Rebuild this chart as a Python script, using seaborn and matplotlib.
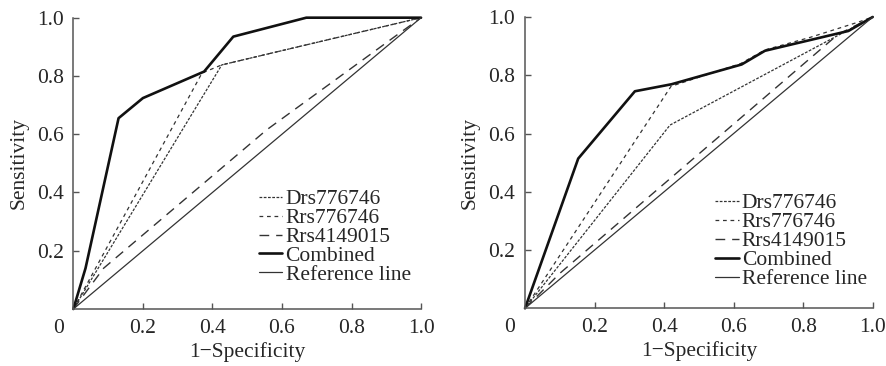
import seaborn as sns
import matplotlib.pyplot as plt

# ROC curve points (1-specificity, sensitivity)
labels = ["Drs776746", "Rrs776746", "Rrs4149015", "Combined", "Reference line"]

left_drs_x = [0, 0.427, 1.0]
left_drs_y = [0, 0.838, 1.0]
left_rrs_x = [0, 0.37, 0.427, 1.0]
left_rrs_y = [0, 0.81, 0.838, 1.0]
left_rrs4_x = [0, 0.087, 0.556, 0.93, 1.0]
left_rrs4_y = [0, 0.14, 0.615, 0.94, 1.0]
left_comb_x = [0, 0.035, 0.13, 0.20, 0.376, 0.46, 0.67, 1.0]
left_comb_y = [0, 0.14, 0.655, 0.724, 0.815, 0.935, 1.0, 1.0]

right_drs_x = [0, 0.417, 0.91, 1.0]
right_drs_y = [0, 0.629, 0.943, 1.0]
right_rrs_x = [0, 0.42, 0.62, 0.69, 0.82, 0.96, 1.0]
right_rrs_y = [0, 0.762, 0.84, 0.887, 0.93, 0.983, 1.0]
right_rrs4_x = [0, 0.1, 0.9, 1.0]
right_rrs4_y = [0, 0.12, 0.94, 1.0]
right_comb_x = [0, 0.153, 0.316, 0.421, 0.623, 0.69, 0.93, 1.0]
right_comb_y = [0, 0.514, 0.745, 0.769, 0.837, 0.884, 0.952, 1.0]

ref_x = [0, 1.0]
ref_y = [0, 1.0]

tick_vals = [0.2, 0.4, 0.6, 0.8, 1.0]
tick_text = ["0.2", "0.4", "0.6", "0.8", "1.0"]

sns.set_style("ticks")
plt.rcParams["font.family"] = ["Liberation Serif", "DejaVu Serif"]

styles = [
    dict(color="#333333", linewidth=0.9, linestyle=(0, (2.2, 1.2))),
    dict(color="#333333", linewidth=0.9, linestyle=(0, (3, 3))),
    dict(color="#333333", linewidth=1.0, linestyle=(0, (7, 5))),
    dict(color="#111111", linewidth=1.9, linestyle="-"),
    dict(color="#333333", linewidth=0.9, linestyle="-"),
]

fig = plt.figure(figsize=(8.87, 3.66), dpi=100)
ax1 = fig.add_axes([0.0827, 0.1557, 0.392, 0.796])
ax2 = fig.add_axes([0.5919, 0.1576, 0.392, 0.796])

panels = [
    (ax1, [(left_drs_x, left_drs_y), (left_rrs_x, left_rrs_y), (left_rrs4_x, left_rrs4_y),
           (left_comb_x, left_comb_y), (ref_x, ref_y)], (0.533, 0.412)),
    (ax2, [(right_drs_x, right_drs_y), (right_rrs_x, right_rrs_y), (right_rrs4_x, right_rrs4_y),
           (right_comb_x, right_comb_y), (ref_x, ref_y)], (0.546, 0.395)),
]

for ax, series, leg_pos in panels:
    for (xs, ys), lab, st in zip(series, labels, styles):
        sns.lineplot(x=xs, y=ys, ax=ax, label=lab, sort=False, estimator=None, **st)
    ax.set_xlim(0, 1)
    ax.set_ylim(0, 1)
    ax.set_xticks(tick_vals)
    ax.set_xticklabels(tick_text)
    ax.set_yticks(tick_vals)
    ax.set_yticklabels(tick_text)
    ax.tick_params(direction="in", length=4, width=1, color="#555555", labelsize=15.5, pad=7)
    for side in ["top", "right"]:
        ax.spines[side].set_visible(False)
    for side in ["left", "bottom"]:
        ax.spines[side].set_color("#555555")
        ax.spines[side].set_linewidth(1.1)
    for ln in ax.lines:
        ln.set_clip_on(False)
    ax.set_xlabel("1\u2212Specificity", fontsize=15.5, labelpad=3)
    ax.set_ylabel("Sensitivity", fontsize=15.5, labelpad=6)
    ax.annotate("0", xy=(0, 0), xycoords="axes fraction", xytext=(-11, -7),
                textcoords="offset points", ha="center", va="top", fontsize=15.5)
    ax.legend(loc="upper left", bbox_to_anchor=leg_pos, frameon=False, fontsize=15.5,
              handlelength=1.1, handletextpad=0.15, labelspacing=-0.05,
              borderpad=0, borderaxespad=0)

fig.savefig("out.png", dpi=100)
plt.close(fig)
